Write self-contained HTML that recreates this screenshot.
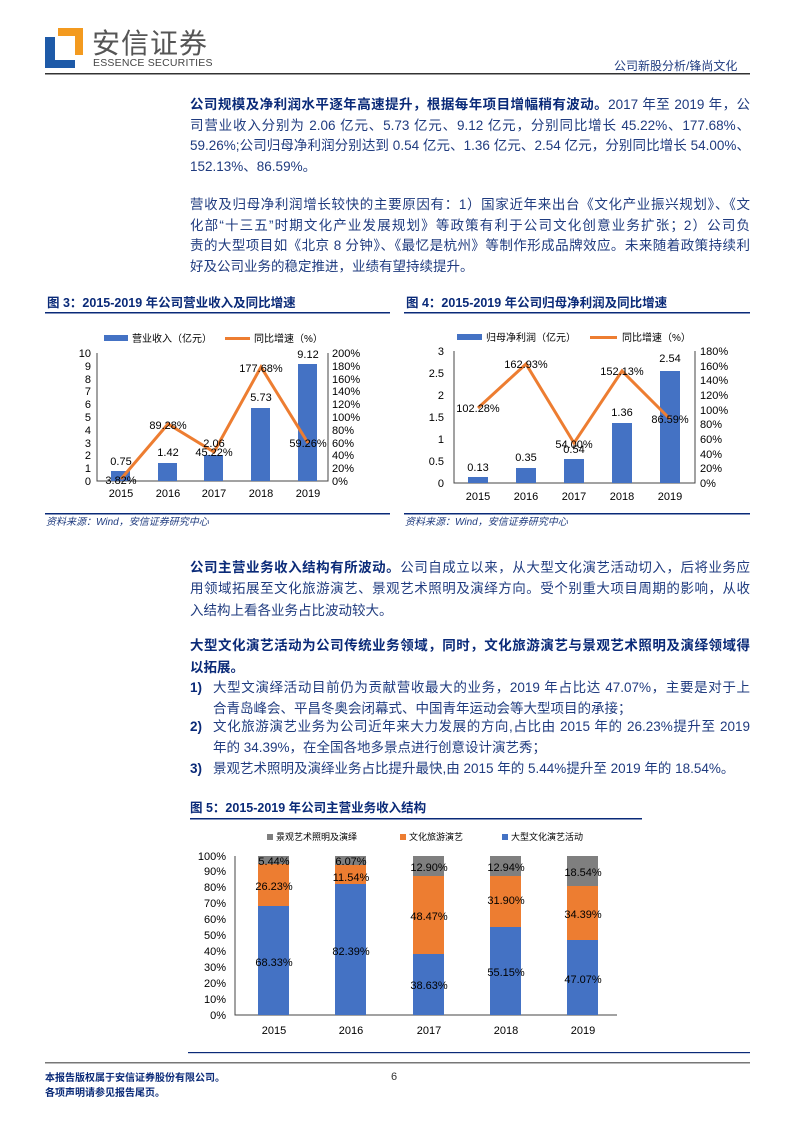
<!DOCTYPE html>
<html><head><meta charset="utf-8"><style>
body{margin:0;background:#fff}
#p{position:relative;width:793px;height:1122px;overflow:hidden;font-family:"Liberation Sans","Noto Sans CJK SC",sans-serif;color:#1f3b7f}
.l{position:absolute;left:190px;width:560px;font-size:13.5px;line-height:16px;white-space:nowrap;text-align:justify;text-align-last:justify}
.n{text-align-last:left}
b{color:#0a2a78}
.t{position:absolute;font-size:12.5px;line-height:14px;font-weight:bold;color:#0a2a78;white-space:nowrap}
svg{position:absolute;left:0;top:0}
svg text{font-family:"Liberation Sans","Noto Sans CJK SC",sans-serif}
</style></head><body><div id="p">
<div style="position:absolute;left:92px;top:30px;font-size:28px;line-height:28px;color:#555;letter-spacing:1px">安信证券</div>
<div style="position:absolute;left:93px;top:58px;font-size:10.5px;line-height:11px;color:#444;letter-spacing:0.2px">ESSENCE SECURITIES</div>
<div style="position:absolute;left:614px;top:60px;font-size:12px;line-height:12px;color:#1f3b7f">公司新股分析/锋尚文化</div>

<div class="l" style="top:97px"><b>公司规模及净利润水平逐年高速提升，根据每年项目增幅稍有波动。</b>2017 年至 2019 年，公</div>
<div class="l" style="top:118px">司营业收入分别为 2.06 亿元、5.73 亿元、9.12 亿元，分别同比增长 45.22%、177.68%、</div>
<div class="l" style="top:138px">59.26%;公司归母净利润分别达到 0.54 亿元、1.36 亿元、2.54 亿元，分别同比增长 54.00%、</div>
<div class="l n" style="top:159px">152.13%、86.59%。</div>
<div class="l" style="top:197px">营收及归母净利润增长较快的主要原因有：1）国家近年来出台《文化产业振兴规划》、《文</div>
<div class="l" style="top:218px">化部“十三五”时期文化产业发展规划》等政策有利于公司文化创意业务扩张；2）公司负</div>
<div class="l" style="top:238px">责的大型项目如《北京 8 分钟》、《最忆是杭州》等制作形成品牌效应。未来随着政策持续利</div>
<div class="l n" style="top:259px">好及公司业务的稳定推进，业绩有望持续提升。</div>

<div class="t" style="left:47px;top:296px">图 3：2015-2019 年公司营业收入及同比增速</div>
<div class="t" style="left:406px;top:296px">图 4：2015-2019 年公司归母净利润及同比增速</div>
<div style="position:absolute;left:46px;top:517px;font-size:10px;line-height:11px;font-style:italic;color:#1f3b7f">资料来源：Wind，安信证券研究中心</div>
<div style="position:absolute;left:405px;top:517px;font-size:10px;line-height:11px;font-style:italic;color:#1f3b7f">资料来源：Wind，安信证券研究中心</div>

<div class="l" style="top:560px"><b>公司主营业务收入结构有所波动。</b>公司自成立以来，从大型文化演艺活动切入，后将业务应</div>
<div class="l" style="top:581px">用领域拓展至文化旅游演艺、景观艺术照明及演绎方向。受个别重大项目周期的影响，从收</div>
<div class="l n" style="top:603px">入结构上看各业务占比波动较大。</div>
<div class="l" style="top:638px"><b>大型文化演艺活动为公司传统业务领域，同时，文化旅游演艺与景观艺术照明及演绎领域得</b></div>
<div class="l n" style="top:660px"><b>以拓展。</b></div>
<div class="l n" style="top:680px;width:30px"><b>1)</b></div>
<div class="l" style="top:680px;left:213px;width:537px">大型文演绎活动目前仍为贡献营收最大的业务，2019 年占比达 47.07%，主要是对于上</div>
<div class="l n" style="top:701px;left:213px">合青岛峰会、平昌冬奥会闭幕式、中国青年运动会等大型项目的承接；</div>
<div class="l n" style="top:719px;width:30px"><b>2)</b></div>
<div class="l" style="top:719px;left:213px;width:537px">文化旅游演艺业务为公司近年来大力发展的方向,占比由 2015 年的 26.23%提升至 2019</div>
<div class="l n" style="top:740px;left:213px">年的 34.39%，在全国各地多景点进行创意设计演艺秀；</div>
<div class="l n" style="top:761px;width:30px"><b>3)</b></div>
<div class="l n" style="top:761px;left:213px">景观艺术照明及演绎业务占比提升最快,由 2015 年的 5.44%提升至 2019 年的 18.54%。</div>
<div class="t" style="left:190px;top:801px">图 5：2015-2019 年公司主营业务收入结构</div>

<div style="position:absolute;left:45px;top:1071px;font-size:10px;font-weight:bold;color:#0a2a78;line-height:15px">本报告版权属于安信证券股份有限公司。<br>各项声明请参见报告尾页。</div>
<div style="position:absolute;left:391px;top:1071px;font-size:11px;color:#333">6</div>

<svg width="793" height="1122" viewBox="0 0 793 1122">
<path d="M58 28H83V55H75V36H58Z" fill="#f39a1f"/>
<path d="M45 37H55V60H75V68H45Z" fill="#1e5aa8"/>
<rect x="45" y="73" width="705" height="1.5" fill="#333"/>
<rect x="45" y="312" width="345" height="1.5" fill="#0a2a78"/>
<rect x="404" y="312" width="346" height="1.5" fill="#0a2a78"/>
<rect x="45" y="513" width="345" height="1.5" fill="#0a2a78"/>
<rect x="404" y="513" width="346" height="1.5" fill="#0a2a78"/>
<rect x="190" y="818" width="452" height="1.5" fill="#0a2a78"/>
<rect x="188" y="1052" width="562" height="1.2" fill="#0a2a78"/>
<rect x="45" y="1062" width="705" height="1.5" fill="#777"/>

<g font-size="11" fill="#000">
<rect x="104" y="335" width="24" height="6" fill="#4472c4"/>
<text x="132" y="342" font-size="10">营业收入（亿元）</text>
<rect x="225" y="337" width="25" height="3" fill="#ed7d31"/>
<text x="254" y="342" font-size="10">同比增速（%）</text>
<path d="M97 353V481H328V353" fill="none" stroke="#444" stroke-width="1"/>
<g text-anchor="end">
<text x="91" y="485">0</text><text x="91" y="472">1</text><text x="91" y="459">2</text><text x="91" y="447">3</text><text x="91" y="434">4</text><text x="91" y="421">5</text><text x="91" y="408">6</text><text x="91" y="395">7</text><text x="91" y="383">8</text><text x="91" y="370">9</text><text x="91" y="357">10</text>
</g>
<g>
<text x="332" y="485">0%</text><text x="332" y="472">20%</text><text x="332" y="459">40%</text><text x="332" y="447">60%</text><text x="332" y="434">80%</text><text x="332" y="421">100%</text><text x="332" y="408">120%</text><text x="332" y="395">140%</text><text x="332" y="383">160%</text><text x="332" y="370">180%</text><text x="332" y="357">200%</text>
</g>
<rect x="111" y="471" width="19" height="10" fill="#4472c4"/>
<rect x="158" y="463" width="19" height="18" fill="#4472c4"/>
<rect x="204" y="455" width="19" height="26" fill="#4472c4"/>
<rect x="251" y="408" width="19" height="73" fill="#4472c4"/>
<rect x="298" y="364" width="19" height="117" fill="#4472c4"/>
<polyline points="121,479 168,424 214,452 261,367 308,443" fill="none" stroke="#ed7d31" stroke-width="3"/>
<g text-anchor="middle">
<text x="121" y="465">0.75</text><text x="168" y="456">1.42</text><text x="214" y="447">2.06</text><text x="261" y="401">5.73</text><text x="308" y="358">9.12</text>
<text x="121" y="484">3.82%</text><text x="168" y="429">89.28%</text><text x="214" y="456">45.22%</text><text x="261" y="372">177.68%</text><text x="308" y="447">59.26%</text>
<text x="121" y="497">2015</text><text x="168" y="497">2016</text><text x="214" y="497">2017</text><text x="261" y="497">2018</text><text x="308" y="497">2019</text>
</g>
</g>

<g font-size="11" fill="#000">
<rect x="457" y="334" width="25" height="6" fill="#4472c4"/>
<text x="486" y="341" font-size="10">归母净利润（亿元）</text>
<rect x="590" y="336" width="27" height="3" fill="#ed7d31"/>
<text x="622" y="341" font-size="10">同比增速（%）</text>
<path d="M454 351V483H695V351" fill="none" stroke="#444" stroke-width="1"/>
<g text-anchor="end">
<text x="444" y="487">0</text><text x="444" y="465">0.5</text><text x="444" y="443">1</text><text x="444" y="421">1.5</text><text x="444" y="399">2</text><text x="444" y="377">2.5</text><text x="444" y="355">3</text>
</g>
<g>
<text x="700" y="487">0%</text><text x="700" y="472">20%</text><text x="700" y="458">40%</text><text x="700" y="443">60%</text><text x="700" y="428">80%</text><text x="700" y="414">100%</text><text x="700" y="399">120%</text><text x="700" y="384">140%</text><text x="700" y="370">160%</text><text x="700" y="355">180%</text>
</g>
<rect x="468" y="477" width="20" height="6" fill="#4472c4"/>
<rect x="516" y="468" width="20" height="15" fill="#4472c4"/>
<rect x="564" y="459" width="20" height="24" fill="#4472c4"/>
<rect x="612" y="423" width="20" height="60" fill="#4472c4"/>
<rect x="660" y="371" width="20" height="112" fill="#4472c4"/>
<polyline points="478,408 526,364 574,443 622,371 670,419" fill="none" stroke="#ed7d31" stroke-width="3"/>
<g text-anchor="middle">
<text x="478" y="471">0.13</text><text x="526" y="461">0.35</text><text x="574" y="453">0.54</text><text x="622" y="416">1.36</text><text x="670" y="362">2.54</text>
<text x="478" y="412">102.28%</text><text x="526" y="368">162.93%</text><text x="574" y="448">54.00%</text><text x="622" y="375">152.13%</text><text x="670" y="423">86.59%</text>
<text x="478" y="500">2015</text><text x="526" y="500">2016</text><text x="574" y="500">2017</text><text x="622" y="500">2018</text><text x="670" y="500">2019</text>
</g>
</g>

<g font-size="11" fill="#000">
<rect x="267" y="834" width="6" height="6" fill="#7f7f7f"/><text x="276" y="840" font-size="9">景观艺术照明及演绎</text>
<rect x="400" y="834" width="6" height="6" fill="#ed7d31"/><text x="409" y="840" font-size="9">文化旅游演艺</text>
<rect x="502" y="834" width="6" height="6" fill="#4472c4"/><text x="511" y="840" font-size="9">大型文化演艺活动</text>
<path d="M235 856V1015H617" fill="none" stroke="#444"/>
<g text-anchor="end">
<text x="226" y="1019">0%</text><text x="226" y="1003">10%</text><text x="226" y="987">20%</text><text x="226" y="971">30%</text><text x="226" y="955">40%</text><text x="226" y="939">50%</text><text x="226" y="923">60%</text><text x="226" y="907">70%</text><text x="226" y="891">80%</text><text x="226" y="875">90%</text><text x="226" y="860">100%</text>
</g>
<rect x="258" y="856" width="31" height="9" fill="#7f7f7f"/><rect x="258" y="864" width="31" height="42" fill="#ed7d31"/><rect x="258" y="906" width="31" height="109" fill="#4472c4"/>
<rect x="335" y="856" width="31" height="10" fill="#7f7f7f"/><rect x="335" y="865" width="31" height="19" fill="#ed7d31"/><rect x="335" y="884" width="31" height="131" fill="#4472c4"/>
<rect x="413" y="856" width="31" height="21" fill="#7f7f7f"/><rect x="413" y="876" width="31" height="78" fill="#ed7d31"/><rect x="413" y="954" width="31" height="61" fill="#4472c4"/>
<rect x="490" y="856" width="31" height="21" fill="#7f7f7f"/><rect x="490" y="876" width="31" height="51" fill="#ed7d31"/><rect x="490" y="927" width="31" height="88" fill="#4472c4"/>
<rect x="567" y="856" width="31" height="30" fill="#7f7f7f"/><rect x="567" y="886" width="31" height="55" fill="#ed7d31"/><rect x="567" y="940" width="31" height="75" fill="#4472c4"/>
<g text-anchor="middle">
<text x="274" y="865">5.44%</text><text x="274" y="890">26.23%</text><text x="274" y="966">68.33%</text>
<text x="351" y="865">6.07%</text><text x="351" y="881">11.54%</text><text x="351" y="955">82.39%</text>
<text x="429" y="871">12.90%</text><text x="429" y="920">48.47%</text><text x="429" y="989">38.63%</text>
<text x="506" y="871">12.94%</text><text x="506" y="904">31.90%</text><text x="506" y="976">55.15%</text>
<text x="583" y="876">18.54%</text><text x="583" y="918">34.39%</text><text x="583" y="983">47.07%</text>
<text x="274" y="1034">2015</text><text x="351" y="1034">2016</text><text x="429" y="1034">2017</text><text x="506" y="1034">2018</text><text x="583" y="1034">2019</text>
</g>
</g>
</svg>
</div></body></html>
